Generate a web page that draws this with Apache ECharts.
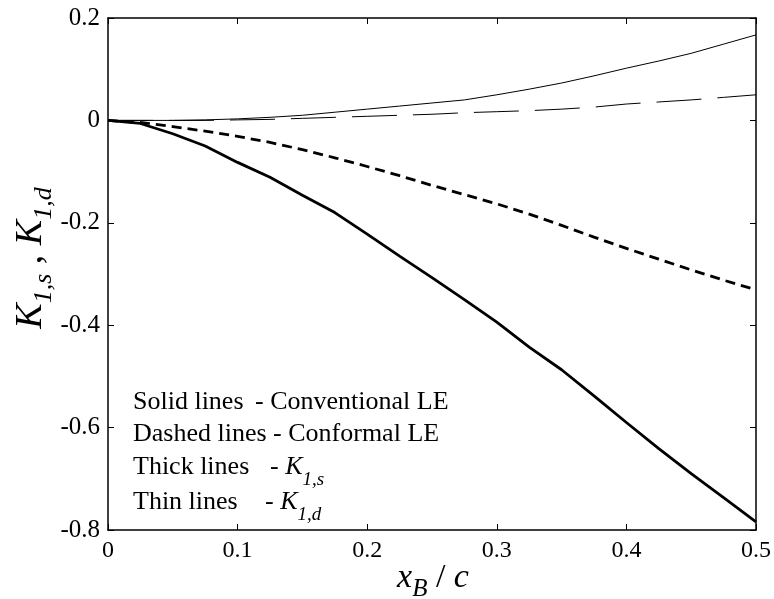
<!DOCTYPE html>
<html>
<head>
<meta charset="utf-8">
<script src="https://cdn.jsdelivr.net/npm/echarts@6/dist/echarts.min.js"></script>
<style>html,body{margin:0;padding:0;background:#fff}#c{width:774px;height:599px}</style>
</head>
<body>
<div id="c"></div>
<script>
var xValues = [0,0.025,0.05,0.075,0.1,0.125,0.15,0.175,0.2,0.225,0.25,0.275,0.3,0.325,0.35,0.375,0.4,0.425,0.45,0.475,0.5];
var k1sConventional = [0,-0.006,-0.026,-0.05,-0.082,-0.111,-0.146,-0.18,-0.222,-0.265,-0.307,-0.35,-0.394,-0.443,-0.487,-0.538,-0.59,-0.641,-0.69,-0.737,-0.784];
var k1sConformal = [0,-0.004,-0.012,-0.021,-0.031,-0.043,-0.057,-0.073,-0.09,-0.108,-0.127,-0.145,-0.163,-0.183,-0.205,-0.228,-0.25,-0.271,-0.292,-0.312,-0.331];
var k1dConventional = [0,0,0,0.001,0.003,0.006,0.01,0.016,0.022,0.028,0.034,0.04,0.05,0.061,0.073,0.087,0.102,0.116,0.131,0.149,0.167];
var k1dConformal = [0,0,0,0,0.001,0.002,0.004,0.006,0.008,0.01,0.012,0.015,0.017,0.019,0.022,0.026,0.032,0.036,0.04,0.045,0.05];
var xTicks = [0,0.1,0.2,0.3,0.4,0.5];
var yTicks = [-0.8,-0.6,-0.4,-0.2,0,0.2];

function pairs(ys){ return xValues.map(function(x,i){ return [x, ys[i]]; }); }

var FONT = '"Liberation Serif","Times New Roman",serif';
var chart = echarts.init(document.getElementById('c'), null, {renderer:'canvas'});

var axisCommon = {
  type:'value',
  axisLine:{show:true, onZero:false, lineStyle:{color:'#000', width:1.5}},
  axisTick:{show:true, inside:true, length:6, lineStyle:{color:'#000', width:1}},
  splitLine:{show:false}
};

function line(name, ys, width, dash){
  return {
    type:'line', name:name, data:pairs(ys), showSymbol:false, symbol:'none',
    lineStyle:{color:'#000', width:width, type:dash || 'solid'},
    xAxisIndex:0, yAxisIndex:0, silent:true, animation:false
  };
}

function annoRich(){
  return {
    n:{fontFamily:FONT, fontSize:26, lineHeight:44, verticalAlign:'middle', fill:'#000'},
    m:{fontFamily:FONT, fontStyle:'italic', fontSize:26, lineHeight:44, verticalAlign:'middle', fill:'#000'},
    s:{fontFamily:FONT, fontStyle:'italic', fontSize:19, lineHeight:19, verticalAlign:'bottom', fill:'#000'}
  };
}
function plain(txt, x, y){
  return {type:'text', x:x, y:y, silent:true, style:{text:txt, font:'26px '+FONT, fill:'#000', verticalAlign:'middle', align:'left'}};
}

chart.setOption({
  animation:false,
  backgroundColor:'#fff',
  grid:{left:108, right:16, top:18, bottom:69, containLabel:false},
  xAxis:[
    Object.assign({}, axisCommon, {position:'bottom', min:0, max:0.5, interval:0.1,
      axisLabel:{show:true, color:'#000', fontFamily:FONT, fontSize:24, margin:9,
        formatter:function(v){ var r = Math.round(v*10)/10; return xTicks.indexOf(r) >= 0 ? String(r) : ''; }}}),
    Object.assign({}, axisCommon, {position:'top', min:0, max:0.5, interval:0.1, axisLabel:{show:false}})
  ],
  yAxis:[
    Object.assign({}, axisCommon, {position:'left', min:-0.8, max:0.2, interval:0.2,
      axisLabel:{show:true, color:'#000', fontFamily:FONT, fontSize:25, margin:8,
        formatter:function(v){ var r = Math.round(v*10)/10; return yTicks.indexOf(r) >= 0 ? String(r) : ''; }}}),
    Object.assign({}, axisCommon, {position:'right', min:-0.8, max:0.2, interval:0.2, axisLabel:{show:false}})
  ],
  series:[
    line('K1s conventional', k1sConventional, 2.8),
    line('K1s conformal', k1sConformal, 2.8, [10,6]),
    line('K1d conventional', k1dConventional, 1),
    line('K1d conformal', k1dConformal, 1, [45,16])
  ],
  graphic:[
    {type:'text', x:433, y:578, silent:true, style:{
      text:'{m|x}{s|B}{n| / }{m|c}', align:'center', verticalAlign:'middle',
      rich:{
        m:{fontFamily:FONT, fontStyle:'italic', fontSize:34, lineHeight:48, verticalAlign:'middle', fill:'#000'},
        n:{fontFamily:FONT, fontSize:34, lineHeight:48, verticalAlign:'middle', fill:'#000'},
        s:{fontFamily:FONT, fontStyle:'italic', fontSize:25, lineHeight:25, verticalAlign:'bottom', fill:'#000'}
      }}},
    {type:'text', x:31, y:258, rotation:Math.PI/2, silent:true, style:{
      text:'{m|K}{s|1,s}{n| , }{m|K}{s|1,d}', align:'center', verticalAlign:'middle',
      rich:{
        m:{fontFamily:FONT, fontStyle:'italic', fontSize:38, lineHeight:52, verticalAlign:'middle', fill:'#000'},
        n:{fontFamily:FONT, fontSize:38, lineHeight:52, verticalAlign:'middle', fill:'#000'},
        s:{fontFamily:FONT, fontStyle:'italic', fontSize:26, lineHeight:26, verticalAlign:'bottom', fill:'#000'}
      }}},
    plain('Solid lines', 133, 402),
    plain('- Conventional LE', 255, 402),
    plain('Dashed lines - Conformal LE', 133, 434),
    plain('Thick lines', 133, 467),
    {type:'text', x:270, y:467, silent:true, style:{text:'{n|- }{m|K}{s|1,s}', verticalAlign:'middle', align:'left', rich:annoRich()}},
    plain('Thin lines', 133, 502),
    {type:'text', x:265, y:502, silent:true, style:{text:'{n|- }{m|K}{s|1,d}', verticalAlign:'middle', align:'left', rich:annoRich()}}
  ]
});
</script>
</body>
</html>
